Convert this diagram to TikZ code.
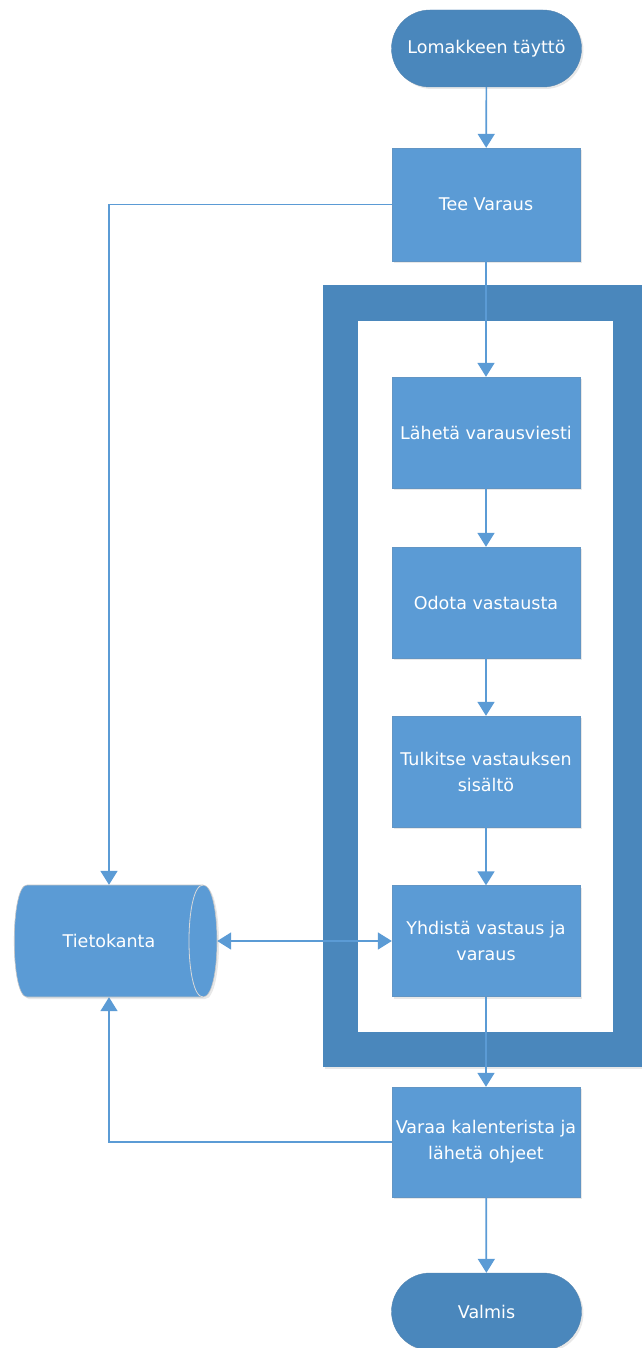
\documentclass[tikz,border=0pt]{standalone}
\usepackage{fontspec}
\setmainfont{DejaVu Sans}
\usetikzlibrary{arrows.meta,shadows,shapes.misc}
\definecolor{boxblue}{RGB}{91,155,213}
\definecolor{darkblue}{RGB}{74,135,188}
\definecolor{lineblue}{RGB}{91,155,213}
\tikzset{
  procbox/.style={rectangle, fill=boxblue, draw=boxblue!80!gray, line width=0.4pt,
    minimum width=188pt, minimum height=112pt, text=white, align=center,
    font=\fontsize{17.5}{26}\selectfont, inner sep=0pt,
    drop shadow={opacity=0.18, shadow xshift=2pt, shadow yshift=-2pt}},
  pill/.style={rounded rectangle, fill=darkblue, draw=darkblue!80!gray, line width=0.4pt,
    minimum width=190pt, minimum height=77pt, text=white, align=center,
    font=\fontsize{17.5}{26}\selectfont, inner sep=0pt,
    drop shadow={opacity=0.18, shadow xshift=2pt, shadow yshift=-2pt}},
  conn/.style={draw=lineblue, line width=1.7pt, -{Triangle[width=17pt,length=14pt]}},
  dconn/.style={draw=lineblue, line width=1.7pt, {Triangle[width=17pt,length=14pt]}-{Triangle[width=17pt,length=14pt]}},
}
\begin{document}
\begin{tikzpicture}[x=1pt,y=-1pt]
\useasboundingbox (0,0) rectangle (641,1348);
% frame
\fill[darkblue, drop shadow={opacity=0.18, shadow xshift=2pt, shadow yshift=-2pt}] (323,285) rectangle (660,1067);
\fill[white] (358,321) rectangle (613,1032);
% nodes
\node[pill] (start) at (486.5,48.5) {Lomakkeen täyttö};
\node[procbox, minimum height=113pt] (tee) at (486,204.5) {Tee Varaus};
\node[procbox, minimum height=111pt] (l1) at (486,432.5) {Lähetä varausviesti};
\node[procbox, minimum height=111pt] (l2) at (486,602.5) {Odota vastausta};
\node[procbox, minimum height=111pt] (l3) at (486,771.5) {Tulkitse vastauksen\\sisältö};
\node[procbox, minimum height=111pt] (l4) at (486,941) {Yhdistä vastaus ja\\varaus};
\node[procbox, minimum height=110pt] (varaa) at (486,1142) {Varaa kalenterista ja\\lähetä ohjeet};
\node[pill] (end) at (486.5,1311.5) {Valmis};
% database cylinder
\filldraw[fill=boxblue, draw=gray!45, line width=0.6pt,
  drop shadow={opacity=0.18, shadow xshift=2pt, shadow yshift=-2pt}]
  (27,885) -- (203,885) .. controls (221.7,885) and (221.7,997) .. (203,997)
  -- (27,997) .. controls (10,997) and (10,885) .. (27,885) -- cycle;
\draw[gray!30, line width=0.8pt] (203,885) .. controls (184.3,885) and (184.3,997) .. (203,997);
\node[rectangle, minimum width=216pt, minimum height=112pt, inner sep=0pt, text=white,
  font=\fontsize{17.5}{26}\selectfont] (db) at (109,941) {Tietokanta};
% connectors
\draw[conn] (start) -- (tee);
\draw[conn] (tee) -- (l1);
\draw[conn] (l1) -- (l2);
\draw[conn] (l2) -- (l3);
\draw[conn] (l3) -- (l4);
\draw[conn] (l4) -- (varaa);
\draw[conn] (varaa) -- (end);
\draw[conn] (tee.west) -| (db.north);
\draw[conn] (varaa.west) -| (db.south);
\draw[dconn] (db.east) -- (l4.west);
\end{tikzpicture}
\end{document}
